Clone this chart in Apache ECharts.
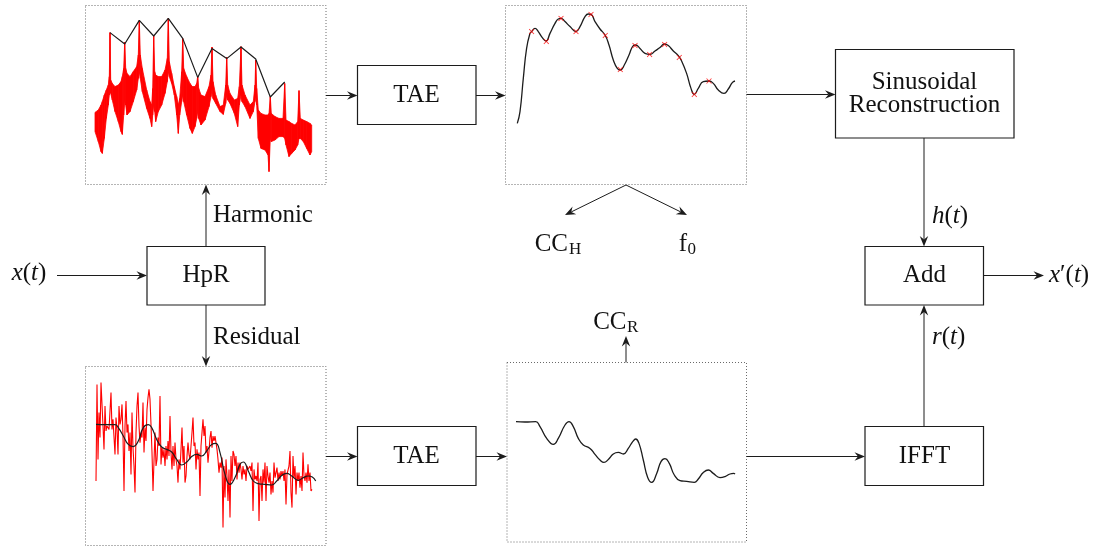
<!DOCTYPE html>
<html>
<head>
<meta charset="utf-8">
<script src="https://cdn.jsdelivr.net/npm/echarts@6/dist/echarts.min.js"></script>
<style>
  html, body { margin: 0; padding: 0; background: #fff; }
  #chart { width: 1112px; height: 549px; }
</style>
</head>
<body>
<div id="chart"></div>
<script>
// ---------------- data (frequency bins, levels in dB) ----------------

// Harmonic part: magnitude spectrum drawn as a band between its upper and lower edge
const harmBins = [0,3.3,6,7.3,9.3,11.3,13.3,14.3,15,15.7,17.3,20,23.3,26,27.3,28.7,29.7,30.7,32,35,38.3,41.7,43.3,44.3,45.3,47.3,51.7,55,56.7,57.7,58.7,59.7,60.7,63.3,66.7,70,72.3,73.3,74.3,76.7,79.3,81.7,83.3,84.7,86.7,87.7,88.7,91.7,95,97.3,100,101.7,102.7,103.7,106,110,114,116,117,118,120.7,125,128.3,130.7,131.7,132.7,135,139.3,142.7,144.3,146,147,150,155,158.3,160,160.7,161.7,163.3,166,170,173,174,175.3,176.3,180,184,188,189.7,191,194,196.7,200,202.7,204,205.3,208.3,211.7,215,216.7];
const harmUpper = [-53.7,-52.5,-50,-48.3,-45,-42.5,-40,-35.8,-13.8,-37.5,-39.2,-40.8,-40,-38.3,-35.8,-31.7,-18.5,-31.7,-34.2,-35.8,-33.3,-30.8,-25,-7.7,-25,-31.7,-42.5,-48.3,-50,-41.7,-15.5,-33.3,-35,-35.8,-35.8,-32.5,-26.7,-6.7,-28.3,-34.2,-40.8,-45.8,-50,-46.7,-33.3,-16.7,-31.7,-35.8,-39.2,-40.8,-40.8,-39.2,-35.5,-41.7,-45,-45.8,-40.8,-35,-21,-38.3,-45,-50.8,-50,-40,-26,-40,-44.2,-47.5,-46.7,-40.8,-20.8,-40,-45,-50,-48.3,-40,-27.5,-41.7,-52.5,-54.2,-55,-55,-54.2,-45.8,-54.2,-55.8,-56.7,-56.7,-39.2,-57.5,-58.3,-59.2,-60,-58.3,-42.8,-56.7,-57.5,-58.3,-59.2,-60];
const harmLower = [-63.3,-68.3,-73.3,-74.2,-66.7,-56.7,-50,-45,-40,-44.2,-47.5,-53.3,-58.3,-63.3,-64.7,-55,-48.3,-50,-55,-53.3,-48.3,-42.5,-36.7,-33.3,-36.7,-43.3,-51.7,-56.7,-60.8,-55,-50,-53.3,-58.3,-53.3,-50,-44.2,-38.3,-33.3,-35.8,-39.2,-45,-55,-64.2,-55,-48.3,-45,-48.3,-55,-61.7,-64.2,-60.8,-56.7,-53.3,-56.7,-60,-57.5,-50.8,-45.8,-41.7,-46.7,-49.2,-53.3,-54.7,-49.2,-45,-47.5,-49.2,-54.2,-60.8,-50,-45,-48.3,-50.8,-56.7,-53.3,-48.3,-45,-50,-66.7,-71.7,-72.5,-75,-83.3,-66.7,-68.3,-67.5,-65.8,-65.8,-66.7,-70,-75.8,-74.2,-72.5,-70,-66.7,-66.7,-68.3,-71.7,-75,-73.3];

// Harmonic peaks joined by straight segments
const peakBins   = [15,29.7,44.3,58.7,73.3,87.7,102.7,117,131.7,146,160.7,175.3,189.7];
const peakLevels = [-13.8,-19.5,-7.7,-15.5,-6.7,-16.7,-36.2,-21.8,-26.8,-21,-27,-46,-38.5];

// True-envelope estimate of the harmonic part, and its values at the harmonics
const taeBins   = [0,2.7,6,9.3,12.7,14.3,17.7,21,25,28.7,32.7,37.7,41,43.7,47.7,52.7,58.7,62.7,67.7,71,73.7,77.7,82.7,87.7,91.7,96,100,103,107,111.7,116,118.3,122.7,127.7,132.7,137.7,142.7,147,151,156,161,164.3,169.3,173.7,177,181,186,191.7,196,201,206.7,211,215,217.7];
const taeLevels = [-59.2,-53.3,-36.7,-21.7,-14.2,-13.3,-11.7,-13.3,-16.3,-18,-14.2,-9.2,-7,-6.7,-8.3,-10.8,-13.3,-10.8,-5.8,-4.5,-4.7,-8.3,-12,-15,-20,-27.5,-31.7,-32.5,-30,-25,-20.3,-20,-21.7,-24.2,-24.7,-23,-21.3,-19.5,-20.3,-23,-25.3,-28,-34.2,-41.7,-44.7,-41.7,-38.3,-38,-39.2,-42.5,-44.2,-42,-38.8,-38];
const harmMarkBins   = [14.3,29,43.7,58.7,73.7,88,103,117.7,132.3,147.3,162,177,191.7];
const harmMarkLevels = [-13.3,-18.2,-6.7,-13.3,-4.7,-15.2,-32.3,-20.3,-24.7,-19.7,-26.2,-44.7,-38];

// Residual part: one level per bin
const residualLevels = [-57.5,-9.2,-46.7,-23.3,-35.8,-8.3,-8,-30,-41.7,-20,-32.5,-30,-30.8,-31.7,-30.8,-13.3,-31.7,-26.7,-27.5,-44.2,-25.8,-31.7,-44.2,-20,-29.2,-26.7,-19.2,-35,
  -62.5,-30,-17.5,-33.3,-29.2,-42.5,-33.3,-54.2,-23.3,-40.8,-50,-63.3,-33.3,-20,-13.3,-30,-38.3,-33.3,-35.8,-18.3,-43.3,-30.8,-37.5,-21.7,-15.8,-11.7,-16.7,-29.2,-43.3,-62.5,-47.5,-33.3,
  -50,-46.7,-35.8,-40,-15,-49.2,-40.8,-45.8,-41.7,-50,-40,-46.7,-37.5,-45,-25,-43.3,-51.7,-40,-50,-38.3,-46.7,-50,-58.3,-46.7,-51.7,-41.7,-30.8,-48.3,-40,-58.3,
  -55,-45,-38.3,-44.2,-46.7,-40,-33.3,-25.8,-40,-38.3,-51.7,-41.7,-46.7,-43.3,-65,-40,-33.3,-26.7,-35,-30,-43.3,-40,-48.3,-42.5,-35.8,-32.5,-40.8,-35,-37.5,-35,
  -38.3,-41.7,-46.7,-53.3,-48.3,-50.8,-45.8,-80.8,-50,-65.8,-46.7,-55,-67.5,-51.7,-75.8,-45,-57.5,-42.5,-44.2,-50,-45,-56.7,-48.3,-53.3,-48.3,-51.7,-56.7,-50,-54.2,-51.7,
  -57.5,-50,-51.7,-50.8,-50,-52.5,-48.3,-72.5,-51.7,-56.7,-55,-57.5,-48.3,-77.5,-56.7,-55,-67.5,-51.7,-58.3,-48.3,-67.5,-50,-55,-58.3,-53.3,-64.2,-57.5,-63.3,-48.3,-55.8,
  -55,-50.8,-57.5,-53.3,-56.7,-52.5,-55,-52.5,-57.5,-51.7,-69.2,-54.2,-55,-50,-42.5,-63.3,-70.8,-45,-55.8,-50,-64.2,-53.3,-57.5,-53.3,-60.8,-55,-62.5,-43.3,-55,-57.5,
  -53.3,-58.3,-49.2,-57.5,-53.3,-62.5,-61.7];

// True-envelope estimate of the residual (drawn over the residual and on its own)
const resEnvBins   = [0,9,19,22.3,27.3,32.3,37.3,42.3,47.3,52.3,55.7,60.7,65.7,70.7,75.7,80.7,85.7,90.7,95.7,100.7,105.7,110.7,115.7,119.7,124,129,134,139,144,147.3,152.3,157.3,162.3,169,175.7,180.7,185.7,190.7,195.7,202.3,207.3,212.3,216.3,219.7];
const resEnvLevels = [-29.2,-29.3,-29.3,-30.8,-35,-39.2,-40.3,-37.5,-30.8,-29.3,-30.8,-36.7,-40.5,-41.7,-43,-46.7,-49.5,-48,-45.3,-44.2,-45,-42.5,-39.2,-38.7,-43.3,-54.2,-59.2,-55.8,-49.2,-48,-52.5,-57.5,-58.8,-59.2,-59.5,-57.5,-54.7,-53.7,-55,-57.2,-55.8,-55,-55.5,-57.5];
const ccrBins   = [0,9,19.7,24,30.7,37.3,42.3,49,53,57.3,62.3,67.3,74,79,84,88,92.3,97.3,102.3,107.3,112.3,116.7,119.7,123,127.3,131.7,135.7,140.7,145,149,153.3,158.3,164,170.7,178.3,182.3,187.3,192.3,197.3,204,209,214,217.7,219];
const ccrLevels = [-30.8,-31,-30.8,-33.3,-39.2,-42.2,-39.2,-32.5,-30.8,-33.3,-39.2,-42.5,-44.2,-47.2,-50,-51.2,-49.7,-47,-46.2,-47,-44.2,-40.8,-39.5,-41.7,-50,-58.7,-61.2,-56.7,-50.8,-49.3,-51.7,-57.5,-60.3,-60.7,-61.2,-59.5,-56.3,-55,-56.7,-58.8,-58.3,-57,-56.7,-57];

// ---------------- helpers ----------------
const zip = (xs, ys) => xs.map((x, i) => [x, ys[i]]);
const RED = '#ff0000';
const INK = '#1c1c1c';
const FONT = '"Liberation Serif", "DejaVu Serif", serif';
const FS = 25;

// plot panels: frequency-bin axis 0..220, level axis -90..0 dB
const panels = [
  { left: 95,    top: 5   },   // harmonic spectrum
  { left: 517.3, top: 5   },   // harmonic envelope
  { left: 96,    top: 366 },   // residual spectrum
  { left: 516,   top: 360 }    // residual envelope
];

// band segments: [bin, upper, lower, nextBin, nextUpper, nextLower]
const harmSegments = harmBins.slice(0, -1).map((b, i) => [
  b, harmUpper[i], harmLower[i], harmBins[i + 1], harmUpper[i + 1], harmLower[i + 1]
]);

function frame(x1, y1, x2, y2, dotted) {
  return {
    type: 'rect', silent: true, z: dotted ? -10 : 10,
    shape: { x: x1, y: y1, width: x2 - x1, height: y2 - y1 },
    style: dotted
      ? { fill: 'none', stroke: '#6a6a6a', lineWidth: 1, lineDash: [1, 2] }
      : { fill: '#fff', stroke: INK, lineWidth: 1.2 }
  };
}

function arrow(x1, y1, x2, y2) {
  const L = 10.5, HW = 4.2, N = 7;
  const len = Math.hypot(x2 - x1, y2 - y1);
  const dx = (x2 - x1) / len, dy = (y2 - y1) / len;
  const nx = -dy, ny = dx;
  const bx = x2 - dx * L, by = y2 - dy * L;
  const mx = x2 - dx * N, my = y2 - dy * N;
  return [
    { type: 'line', silent: true, z: 5, shape: { x1, y1, x2: mx, y2: my },
      style: { stroke: INK, lineWidth: 1 } },
    { type: 'polygon', silent: true, z: 5,
      shape: { points: [[x2, y2], [bx + nx * HW, by + ny * HW], [mx, my], [bx - nx * HW, by - ny * HW]] },
      style: { fill: INK } }
  ];
}

function label(x, y, text, align, size) {
  return {
    type: 'text', silent: true, z: 20, x, y,
    style: {
      text, fill: '#111', fontSize: size || FS, fontFamily: FONT,
      align: align || 'center', textAlign: align || 'center',
      verticalAlign: 'middle', textVerticalAlign: 'middle'
    }
  };
}

// math-style label: italic letters, upright punctuation
function mathLabel(x, y, str, align) {
  const rich = {
    i: { fontSize: FS, fontFamily: FONT, fontStyle: 'italic', fill: '#111' },
    n: { fontSize: FS, fontFamily: FONT, fill: '#111' }
  };
  const text = str.split('').map(c => /[a-z]/.test(c) ? '{i|' + c + '}' : '{n|' + c + '}').join('');
  return {
    type: 'text', silent: true, z: 20, x, y,
    style: {
      text, rich, fill: '#111', fontSize: FS, fontFamily: FONT,
      align: align || 'center', textAlign: align || 'center',
      verticalAlign: 'middle', textVerticalAlign: 'middle'
    }
  };
}

const graphics = [
  // plot frames
  frame(85.5, 5.5, 326, 184.5, true),
  frame(505.5, 5.5, 746.5, 184.5, true),
  frame(85.5, 366.5, 326, 545.5, true),
  frame(507, 362.5, 746.5, 542, true),
  // processing blocks
  frame(147, 246.5, 265, 305, false),
  frame(357.5, 65.5, 476, 124.5, false),
  frame(357.5, 426.5, 476, 485.5, false),
  frame(835.5, 49.5, 1014, 138, false),
  frame(865, 246.5, 983.5, 305, false),
  frame(865, 426.5, 983.5, 485.5, false),
  // connections
  ...arrow(57, 275.5, 147, 275.5),
  ...arrow(206, 246.5, 206, 184.5),
  ...arrow(206, 305, 206, 366.5),
  ...arrow(326, 95.5, 357.5, 95.5),
  ...arrow(476, 95.5, 505.5, 95.5),
  ...arrow(746.5, 94.5, 835.5, 94.5),
  ...arrow(626, 185, 565, 215),
  ...arrow(626, 185, 687, 215),
  ...arrow(924, 138, 924, 246.5),
  ...arrow(983.5, 275.5, 1044, 275.5),
  ...arrow(924, 426.5, 924, 305),
  ...arrow(326, 456.5, 357.5, 456.5),
  ...arrow(476, 456.5, 507, 456.5),
  ...arrow(746.5, 456.5, 865, 456.5),
  ...arrow(626, 362.5, 626, 336),
  // text
  mathLabel(29, 273.5, 'x(t)'),
  label(213, 215, 'Harmonic', 'left'),
  label(213, 337, 'Residual', 'left'),
  label(206, 275.5, 'HpR'),
  label(416.5, 95, 'TAE'),
  label(416.5, 456, 'TAE'),
  label(924.5, 82, 'Sinusoidal'),
  label(924.5, 105.5, 'Reconstruction'),
  label(924.5, 275.5, 'Add'),
  label(924.5, 456, 'IFFT'),
  mathLabel(932, 216, 'h(t)', 'left'),
  mathLabel(932, 337, 'r(t)', 'left'),
  mathLabel(1049, 275, 'x′(t)', 'left'),
  label(568, 244, 'CC', 'right'),
  label(569, 250, 'H', 'left', 17),
  label(687, 244, 'f', 'right'),
  label(687.5, 250, '0', 'left', 17),
  label(626.5, 322, 'CC', 'right'),
  label(627, 328, 'R', 'left', 17)
];

// ---------------- chart ----------------
const chart = echarts.init(document.getElementById('chart'), null, { renderer: 'canvas' });

const xCrossSymbol = 'path://M1,0 L5,4 L9,0 L10,1 L6,5 L10,9 L9,10 L5,6 L1,10 L0,9 L4,5 L0,1 Z';

chart.setOption({
  backgroundColor: '#fff',
  animation: false,
  grid: panels.map(p => ({ left: p.left, top: p.top, width: 220, height: 180, containLabel: false })),
  xAxis: panels.map((p, i) => ({ type: 'value', gridIndex: i, min: 0, max: 220, show: false })),
  yAxis: panels.map((p, i) => ({ type: 'value', gridIndex: i, min: -90, max: 0, show: false })),
  graphic: { elements: graphics },
  series: [
    {
      // red band between the upper and lower edge of the harmonic spectrum
      name: 'harmonic spectrum', type: 'custom', xAxisIndex: 0, yAxisIndex: 0,
      coordinateSystem: 'cartesian2d', z: 2,
      encode: { x: [0, 3], y: [1, 2, 4, 5] },
      renderItem: (params, api) => {
        const p = [
          api.coord([api.value(0), api.value(1)]),
          api.coord([api.value(3), api.value(4)]),
          api.coord([api.value(3), api.value(5)]),
          api.coord([api.value(0), api.value(2)])
        ];
        return {
          type: 'polygon', shape: { points: p },
          style: { fill: RED, stroke: RED, lineWidth: 0.8, lineJoin: 'round' }
        };
      },
      data: harmSegments
    },
    {
      name: 'harmonic peaks', type: 'line', xAxisIndex: 0, yAxisIndex: 0,
      symbol: 'none', z: 5,
      lineStyle: { color: INK, width: 1.2 },
      data: zip(peakBins, peakLevels)
    },
    {
      name: 'harmonic envelope', type: 'line', xAxisIndex: 1, yAxisIndex: 1,
      symbol: 'none', smooth: 0.5,
      lineStyle: { color: INK, width: 1.3 },
      data: zip(taeBins, taeLevels)
    },
    {
      name: 'envelope at harmonics', type: 'scatter', xAxisIndex: 1, yAxisIndex: 1,
      symbol: xCrossSymbol, symbolSize: 5.5, z: 6,
      itemStyle: { color: RED },
      data: zip(harmMarkBins, harmMarkLevels)
    },
    {
      name: 'residual spectrum', type: 'line', xAxisIndex: 2, yAxisIndex: 2,
      symbol: 'none',
      lineStyle: { color: RED, width: 1.1 },
      data: residualLevels.map((v, i) => [i, v])
    },
    {
      name: 'residual envelope', type: 'line', xAxisIndex: 2, yAxisIndex: 2,
      symbol: 'none', smooth: 0.5, z: 5,
      lineStyle: { color: INK, width: 1.2 },
      data: zip(resEnvBins, resEnvLevels)
    },
    {
      name: 'residual cepstral envelope', type: 'line', xAxisIndex: 3, yAxisIndex: 3,
      symbol: 'none', smooth: 0.5,
      lineStyle: { color: INK, width: 1.3 },
      data: zip(ccrBins, ccrLevels)
    }
  ]
});
</script>
</body>
</html>
